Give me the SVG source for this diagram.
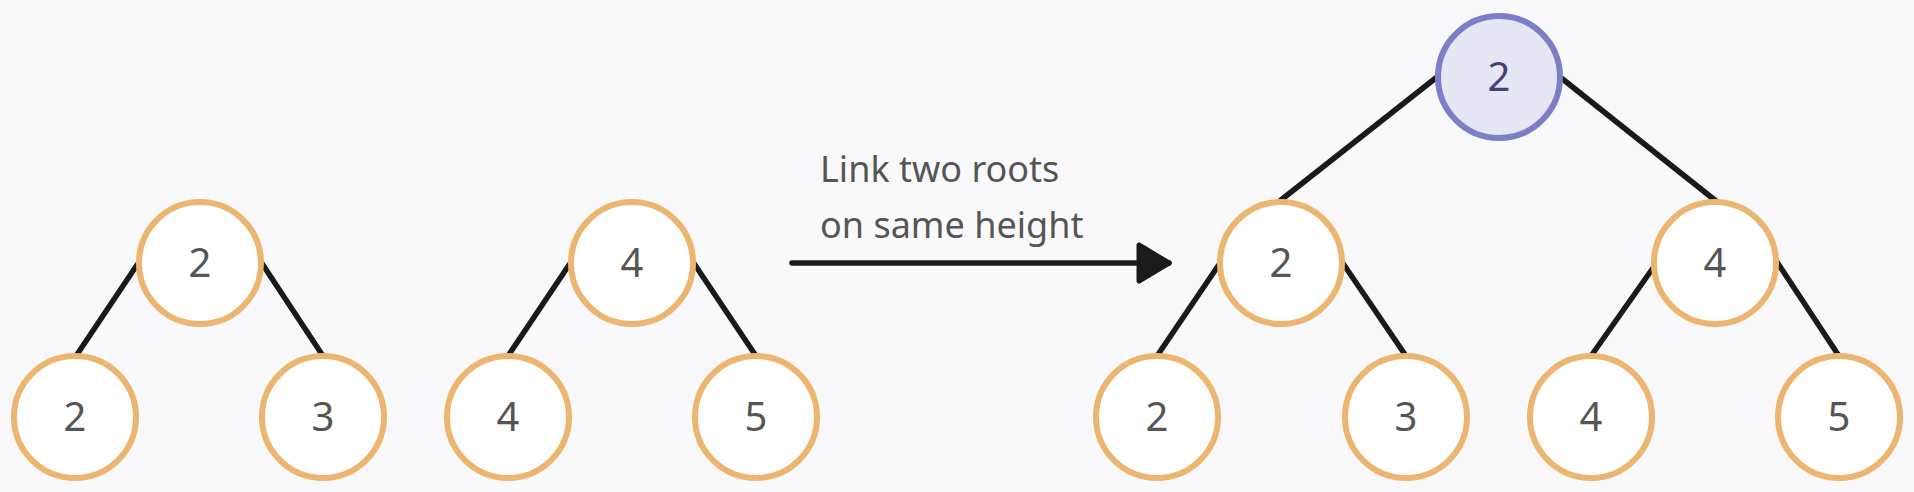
<svg xmlns="http://www.w3.org/2000/svg" width="1914" height="492" viewBox="0 0 1914 492">
<defs>
<style>
.n circle{fill:#ffffff;stroke:#ecb570;stroke-width:6}
.n text{font-family:"Noto Sans","Open Sans",sans-serif;font-size:40px;fill:#555555;text-anchor:middle}
.r circle{fill:#e6e7f5;stroke:#7c7ec6;stroke-width:6}
.r text{fill:#483f7d}
.e line{stroke:#1a1a1a;stroke-width:5.5;stroke-linecap:round}
.lbl{font-family:"Noto Sans","Open Sans",sans-serif;font-size:36px;fill:#555555}
</style>
<marker id="ah" markerUnits="userSpaceOnUse" markerWidth="40" markerHeight="46" refX="34" refY="23" orient="auto">
<path d="M4,5 L34,23 L4,41 Z" fill="#1a1a1a" stroke="#1a1a1a" stroke-width="5" stroke-linejoin="round"/>
</marker>
</defs>
<rect width="1914" height="492" fill="#f9f9fb"/>
<g id="connectors" class="e">
<line x1="137" y1="265" x2="76" y2="356"/>
<line x1="261" y1="262" x2="323" y2="356"/>
<line x1="569" y1="265" x2="508" y2="356"/>
<line x1="693" y1="262" x2="756" y2="356"/>
<line x1="1437" y1="77" x2="1281" y2="200"/>
<line x1="1560" y1="77" x2="1716" y2="201"/>
<line x1="1218" y1="266" x2="1157" y2="356"/>
<line x1="1342" y1="262" x2="1406" y2="356"/>
<line x1="1653" y1="268" x2="1591" y2="356"/>
<line x1="1777" y1="262" x2="1839" y2="356"/>
<line x1="792" y1="263" x2="1169" y2="263" marker-end="url(#ah)"/>
</g>
<text class="lbl" x="820" y="182">Link two roots</text>
<text class="lbl" x="820" y="238">on same height</text>
<g id="a_root" class="n"><circle cx="200" cy="263" r="61"/><text x="200" y="277">2</text></g>
<g id="a_left" class="n"><circle cx="75" cy="417" r="61"/><text x="75" y="431">2</text></g>
<g id="a_right" class="n"><circle cx="323" cy="417" r="61"/><text x="323" y="431">3</text></g>
<g id="b_root" class="n"><circle cx="632" cy="263" r="61"/><text x="632" y="277">4</text></g>
<g id="b_left" class="n"><circle cx="508" cy="417" r="61"/><text x="508" y="431">4</text></g>
<g id="b_right" class="n"><circle cx="756" cy="417" r="61"/><text x="756" y="431">5</text></g>
<g id="c_root" class="n r"><circle cx="1499" cy="77" r="61"/><text x="1499" y="91">2</text></g>
<g id="c_l" class="n"><circle cx="1281" cy="263" r="61"/><text x="1281" y="277">2</text></g>
<g id="c_r" class="n"><circle cx="1715" cy="263" r="61"/><text x="1715" y="277">4</text></g>
<g id="c_ll" class="n"><circle cx="1157" cy="417" r="61"/><text x="1157" y="431">2</text></g>
<g id="c_lr" class="n"><circle cx="1406" cy="417" r="61"/><text x="1406" y="431">3</text></g>
<g id="c_rl" class="n"><circle cx="1591" cy="417" r="61"/><text x="1591" y="431">4</text></g>
<g id="c_rr" class="n"><circle cx="1839" cy="417" r="61"/><text x="1839" y="431">5</text></g>
</svg>
